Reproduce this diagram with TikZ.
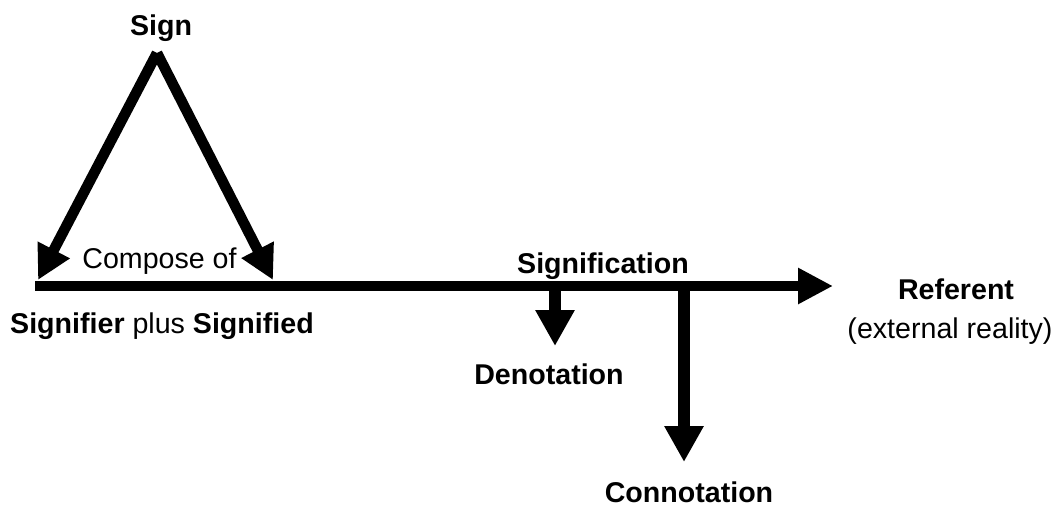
\documentclass[tikz,border=0pt]{standalone}
\usepackage{fontspec}
\setmainfont{Liberation Sans}
\usetikzlibrary{arrows.meta}
\begin{document}
\begin{tikzpicture}[x=1pt,y=-1pt,
  lbl/.style={inner sep=0pt,anchor=base,font=\fontsize{28.6}{32}\selectfont},
  boldlbl/.style={lbl,font=\fontsize{28.6}{32}\selectfont\bfseries},
  fatarrow/.style={line width=10.5pt,line cap=butt,-{Triangle[width=34pt,length=34pt]}},
  droparrow/.style={line width=12pt,line cap=butt,-{Triangle[width=37pt,length=36pt]}}]
  \useasboundingbox (0,0) rectangle (1059,511);

  % labels
  \node[boldlbl] (sign) at (161,36) {Sign};
  \node[lbl] (compose) at (159.5,268) {Compose of};
  \node[lbl,anchor=base west] (pair) at (10,333)
    {\textbf{Signifier} plus \textbf{Signified}};
  \node[boldlbl] (signification) at (603,273) {Signification};
  \node[boldlbl] (referent) at (956,299) {Referent};
  \node[lbl] (reality) at (950,338) {(external reality)};
  \node[boldlbl] (denotation) at (549,384) {Denotation};
  \node[boldlbl] (connotation) at (689,502) {Connotation};

  % anchor points of the arrows
  \coordinate (apex) at (157,53);
  \coordinate (signifier) at (38,280);
  \coordinate (signified) at (273,280);
  \coordinate (lineStart) at (35,286);
  \coordinate (lineEnd) at (833,286);
  \coordinate (denFork) at (555,286);
  \coordinate (denTip) at (555,346);
  \coordinate (conFork) at (684,286);
  \coordinate (conTip) at (684,462);

  % the sign splits into signifier and signified
  \draw[fatarrow] (apex) -- (signifier);
  \draw[fatarrow] (apex) -- (signified);

  % signification towards the referent
  \draw[fatarrow,-{Triangle[width=34pt,length=35pt]}] (lineStart) -- (lineEnd);

  % denotation and connotation branches
  \draw[droparrow] (denFork) -- (denTip);
  \draw[droparrow] (conFork) -- (conTip);
\end{tikzpicture}
\end{document}
